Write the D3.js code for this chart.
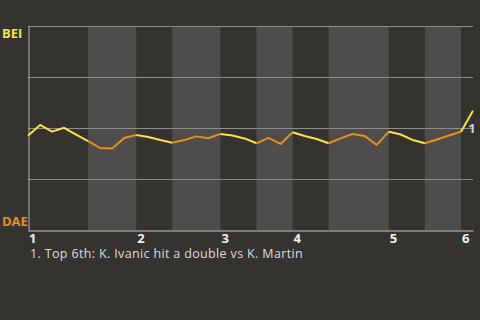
<!DOCTYPE html>
<html>
<head>
<meta charset="utf-8">
<script src="https://cdn.jsdelivr.net/npm/d3@7"></script>
<style>
  body { margin: 0; background: #353330; }
  svg { display: block; font-family: "Open Sans", sans-serif; }
</style>
</head>
<body>
<div id="chart"></div>
<script>
// win probability for BEI after each play (0 = DAE wins, 1 = BEI wins)
const winProb = [
  0.462, 0.515, 0.482, 0.501, 0.468, 0.436,
  0.402, 0.400, 0.451, 0.466,
  0.456, 0.441, 0.428,
  0.441, 0.459, 0.450, 0.471,
  0.463, 0.449, 0.425,
  0.452, 0.422, 0.479,
  0.461, 0.446, 0.425,
  0.449, 0.471, 0.461, 0.417, 0.482,
  0.468, 0.441, 0.425,
  0.444, 0.463, 0.482,
  0.585
];

// number of plays in each half inning (top 1st, bottom 1st, ...)
const halfInningPlays = [5, 4, 3, 4, 3, 3, 3, 5, 3, 3, 1];
const inningLabels = ["1", "2", "3", "4", "5", "6"];
const teams = ["BEI", "DAE"];
const teamColors = ["#f9e14b", "#e8901b"];
const gridValues = [0.25, 0.5, 0.75, 1];
const noteMarker = "1";
const noteText = "1. Top 6th: K. Ivanic hit a double vs K. Martin";

const svgWidth = 480;
const svgHeight = 320;
const margin = { top: 26, right: 7, bottom: 90, left: 28 };
const width = svgWidth - margin.left - margin.right;
const height = svgHeight - margin.top - margin.bottom;

const svg = d3.select("#chart")
  .append("svg")
  .attr("width", svgWidth)
  .attr("height", svgHeight);

svg.append("rect")
  .attr("width", svgWidth)
  .attr("height", svgHeight)
  .attr("fill", "#353330");

const chartGroup = svg.append("g")
  .attr("transform", `translate(${margin.left}, ${margin.top})`);

const xScale = d3.scaleLinear()
  .domain([0, winProb.length - 1])
  .range([0, width]);

const yScale = d3.scaleLinear()
  .domain([0, 1])
  .range([height, 0]);

// start / end play index of every half inning
let start = 0;
const halves = halfInningPlays.map((n, i) => {
  const h = { i: i, start: start, end: start + n };
  start += n;
  return h;
});

// shaded bottom halves
chartGroup.selectAll(".band")
  .data(halves.filter(h => h.i % 2 === 1))
  .enter()
  .append("rect")
  .attr("class", "band")
  .attr("x", d => xScale(d.start))
  .attr("width", d => xScale(d.end) - xScale(d.start))
  .attr("y", 0)
  .attr("height", height)
  .attr("fill", "#4e4d4b");

// gridlines
chartGroup.selectAll(".grid")
  .data(gridValues)
  .enter()
  .append("line")
  .attr("class", "grid")
  .attr("x1", 0)
  .attr("x2", width)
  .attr("y1", d => Math.round(yScale(d)) + 0.5)
  .attr("y2", d => Math.round(yScale(d)) + 0.5)
  .attr("stroke", "#8e8d8b")
  .attr("stroke-width", 1);

// left axis line
const leftAxis = d3.axisLeft(yScale).tickValues([]).tickSizeOuter(0);
chartGroup.append("g")
  .attr("transform", "translate(0.5, 0)")
  .call(leftAxis)
  .select(".domain")
  .attr("stroke", "#b5b4b2");

// bottom axis with inning labels
const inningStarts = halves.filter(h => h.i % 2 === 0).map(h => h.start);
const bottomAxis = d3.axisBottom(xScale)
  .tickValues(inningStarts)
  .tickFormat((d, i) => inningLabels[i])
  .tickSize(0)
  .tickSizeOuter(0);

const xAxis = chartGroup.append("g")
  .attr("transform", `translate(0, ${height + 0.5})`)
  .call(bottomAxis);

xAxis.select(".domain").attr("stroke", "#c8c7c5");
xAxis.selectAll("text")
  .attr("text-anchor", "start")
  .attr("dx", 0.5)
  .attr("y", 3)
  .attr("fill", "#f0f0f0")
  .attr("font-family", "Open Sans, sans-serif")
  .attr("font-weight", "bold")
  .attr("font-size", "13px");

// win probability line, coloured by batting team
const line = d3.line()
  .x(d => xScale(d.x))
  .y(d => yScale(d.v));

chartGroup.selectAll(".wp")
  .data(halves)
  .enter()
  .append("path")
  .attr("class", "wp")
  .attr("fill", "none")
  .attr("stroke", d => teamColors[d.i % 2])
  .attr("stroke-width", 2)
  .attr("stroke-linejoin", "round")
  .attr("d", d => line(d3.range(d.start, d.end + 1).map(x => ({ x: x, v: winProb[x] }))));

// note marker at the last play
chartGroup.append("text")
  .attr("x", xScale(winProb.length - 1) - 1)
  .attr("y", yScale(0.5))
  .attr("dy", "0.36em")
  .attr("text-anchor", "middle")
  .attr("fill", "#cfcfcf")
  .attr("font-weight", "bold")
  .attr("font-size", "13px")
  .text(noteMarker);

// team labels
svg.selectAll(".team")
  .data(teams)
  .enter()
  .append("text")
  .attr("class", "team")
  .attr("x", 2)
  .attr("y", (d, i) => i === 0 ? 38 : 226)
  .attr("fill", (d, i) => teamColors[i])
  .attr("font-weight", "bold")
  .attr("font-size", "13px")
  .text(d => d);

// note text
svg.append("text")
  .attr("x", 30)
  .attr("y", 258)
  .attr("fill", "#dddddd")
  .attr("font-size", "12.5px")
  .attr("letter-spacing", "0.35px")
  .text(noteText);
</script>
</body>
</html>
